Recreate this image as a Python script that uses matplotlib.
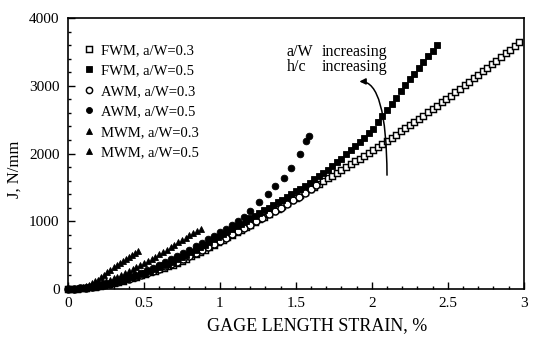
import matplotlib
matplotlib.use("Agg")
import matplotlib.pyplot as plt
from matplotlib.ticker import MultipleLocator

# FWM, a/W=0.3 (open squares)
fwm03_x = [0.00, 0.03, 0.06, 0.09, 0.12, 0.15, 0.18, 0.21, 0.24, 0.27,
           0.30, 0.33, 0.36, 0.39, 0.42, 0.45, 0.48, 0.51, 0.54, 0.57,
           0.60, 0.63, 0.66, 0.69, 0.72, 0.75, 0.78, 0.81, 0.84, 0.87,
           0.90, 0.93, 0.96, 0.99, 1.02, 1.05, 1.08, 1.11, 1.14, 1.17,
           1.20, 1.23, 1.26, 1.29, 1.32, 1.35, 1.38, 1.41, 1.44, 1.47,
           1.50, 1.53, 1.56, 1.59, 1.62, 1.65, 1.68, 1.71, 1.74, 1.77,
           1.80, 1.83, 1.86, 1.89, 1.92, 1.95, 1.98, 2.01, 2.04, 2.07,
           2.10, 2.13, 2.16, 2.19, 2.22, 2.25, 2.28, 2.31, 2.34, 2.37,
           2.40, 2.43, 2.46, 2.49, 2.52, 2.55, 2.58, 2.61, 2.64, 2.67,
           2.70, 2.73, 2.76, 2.79, 2.82, 2.85, 2.88, 2.91, 2.94, 2.97]
fwm03_y = [0, 1, 4, 10, 17, 26, 35, 46, 59, 74,
           88, 106, 125, 144, 163, 183, 202, 222, 244, 266,
           288, 312, 336, 360, 388, 418, 449, 481, 515, 548,
           582, 617, 653, 688, 725, 762, 800, 838, 876, 914,
           952, 991, 1030, 1069, 1108, 1148, 1188, 1227, 1267, 1308,
           1348, 1389, 1430, 1470, 1511, 1552, 1593, 1634, 1675, 1717,
           1758, 1800, 1842, 1884, 1927, 1970, 2013, 2057, 2101, 2146,
           2190, 2236, 2281, 2327, 2373, 2420, 2467, 2514, 2562, 2610,
           2658, 2707, 2756, 2806, 2856, 2906, 2956, 3007, 3059, 3110,
           3162, 3215, 3268, 3321, 3374, 3427, 3481, 3534, 3588, 3642]

# FWM, a/W=0.5 (filled squares)
fwm05_x = [0.00, 0.03, 0.06, 0.09, 0.12, 0.15, 0.18, 0.21, 0.24, 0.27,
           0.30, 0.33, 0.36, 0.39, 0.42, 0.45, 0.48, 0.51, 0.54, 0.57,
           0.60, 0.63, 0.66, 0.69, 0.72, 0.75, 0.78, 0.81, 0.84, 0.87,
           0.90, 0.93, 0.96, 0.99, 1.02, 1.05, 1.08, 1.11, 1.14, 1.17,
           1.20, 1.23, 1.26, 1.29, 1.32, 1.35, 1.38, 1.41, 1.44, 1.47,
           1.50, 1.53, 1.56, 1.59, 1.62, 1.65, 1.68, 1.71, 1.74, 1.77,
           1.80, 1.83, 1.86, 1.89, 1.92, 1.95, 1.98, 2.01, 2.04, 2.07,
           2.10, 2.13, 2.16, 2.19, 2.22, 2.25, 2.28, 2.31, 2.34, 2.37,
           2.40, 2.43]
fwm05_y = [0, 1, 5, 12, 19, 29, 39, 50, 65, 80,
           95, 115, 134, 154, 175, 197, 220, 243, 269, 295,
           320, 348, 375, 403, 436, 471, 506, 542, 580, 618,
           655, 694, 733, 772, 811, 850, 889, 928, 967, 1006,
           1045, 1084, 1123, 1162, 1201, 1240, 1279, 1318, 1359, 1400,
           1440, 1483, 1527, 1570, 1617, 1665, 1713, 1763, 1817, 1871,
           1925, 1987, 2048, 2110, 2172, 2235, 2298, 2370, 2460, 2550,
           2640, 2733, 2826, 2919, 3008, 3095, 3182, 3268, 3352, 3436,
           3520, 3605]

# AWM, a/W=0.3 (open circles)
awm03_x = [0.00, 0.04, 0.08, 0.12, 0.16, 0.20, 0.24, 0.28, 0.32, 0.36,
           0.40, 0.44, 0.48, 0.52, 0.56, 0.60, 0.64, 0.68, 0.72, 0.76,
           0.80, 0.84, 0.88, 0.92, 0.96, 1.00, 1.04, 1.08, 1.12, 1.16,
           1.20, 1.24, 1.28, 1.32, 1.36, 1.40, 1.44, 1.48, 1.52, 1.56,
           1.60, 1.63]
awm03_y = [0, 2, 8, 17, 30, 44, 61, 81, 103, 127,
           152, 180, 208, 237, 268, 300, 333, 368, 405, 445,
           488, 531, 575, 620, 666, 712, 759, 807, 855, 903,
           952, 1001, 1051, 1101, 1152, 1203, 1255, 1308, 1361, 1415,
           1480, 1530]

# AWM, a/W=0.5 (filled circles)
awm05_x = [0.00, 0.04, 0.08, 0.12, 0.16, 0.20, 0.24, 0.28, 0.32, 0.36,
           0.40, 0.44, 0.48, 0.52, 0.56, 0.60, 0.64, 0.68, 0.72, 0.76,
           0.80, 0.84, 0.88, 0.92, 0.96, 1.00, 1.04, 1.08, 1.12, 1.16,
           1.20, 1.26, 1.317, 1.366, 1.42, 1.471, 1.529, 1.566, 1.587]
awm05_y = [0, 3, 10, 20, 34, 50, 70, 92, 118, 146,
           176, 208, 242, 278, 316, 356, 398, 442, 488, 535,
           583, 632, 682, 733, 785, 838, 892, 947, 1003, 1060,
           1150, 1288, 1400, 1528, 1639, 1785, 1996, 2184, 2255]

# MWM, a/W=0.3 (triangles, longer branch)
mwm03_x = [0.000, 0.025, 0.050, 0.075, 0.100, 0.125, 0.150, 0.175, 0.200,
           0.225, 0.250, 0.275, 0.300, 0.325, 0.350, 0.375, 0.400, 0.425,
           0.450, 0.475, 0.500, 0.525, 0.550, 0.575, 0.600, 0.625, 0.650,
           0.675, 0.700, 0.725, 0.750, 0.775, 0.800, 0.825, 0.850, 0.875]
mwm03_y = [0, 2, 6, 13, 22, 33, 47, 62, 79,
           97, 117, 138, 160, 184, 209, 235, 262, 290,
           319, 349, 380, 412, 445, 479, 513, 548, 583,
           618, 653, 688, 722, 756, 790, 823, 856, 889]

# MWM, a/W=0.5 (triangles, short steep branch)
mwm05_x = [0.00, 0.02, 0.04, 0.06, 0.08, 0.10, 0.12, 0.14, 0.16, 0.18,
           0.20, 0.22, 0.24, 0.26, 0.28, 0.30, 0.32, 0.34, 0.36, 0.38,
           0.40, 0.42, 0.44, 0.46]
mwm05_y = [0, 2, 6, 12, 21, 33, 48, 66, 88, 112,
           140, 170, 205, 245, 282, 318, 352, 385, 417, 448,
           478, 507, 536, 565]

x_ticks = [0, 0.5, 1, 1.5, 2, 2.5, 3]
x_tick_labels = ["0", "0.5", "1", "1.5", "2", "2.5", "3"]
y_ticks = [0, 1000, 2000, 3000, 4000]

plt.rcParams['font.family'] = ['Liberation Serif', 'DejaVu Serif']

fig = plt.figure(figsize=(5.35, 3.42), dpi=100)
ax = fig.add_axes([0.127, 0.155, 0.852, 0.792])

common = dict(linestyle='none', clip_on=False, markeredgecolor='black')
ax.plot(fwm03_x, fwm03_y, marker='s', ms=4.6, mfc='white', mew=1.05,
        label='FWM, a/W=0.3', **common)
ax.plot(awm03_x, awm03_y, marker='o', ms=5.0, mfc='white', mew=1.05,
        label='AWM, a/W=0.3', **common)
ax.plot(fwm05_x, fwm05_y, marker='s', ms=4.3, mfc='black', mew=0.6,
        label='FWM, a/W=0.5', **common)
ax.plot(awm05_x, awm05_y, marker='o', ms=4.8, mfc='black', mew=0.6,
        label='AWM, a/W=0.5', **common)
ax.plot(mwm03_x, mwm03_y, marker='^', ms=4.6, mfc='black', mew=0.6,
        label='MWM, a/W=0.3', **common)
ax.plot(mwm05_x, mwm05_y, marker='^', ms=4.6, mfc='black', mew=0.6,
        label='MWM, a/W=0.5', **common)

ax.set_xlim(0, 3)
ax.set_ylim(0, 4000)
ax.set_xticks(x_ticks)
ax.set_xticklabels(x_tick_labels)
ax.set_yticks(y_ticks)
ax.xaxis.set_minor_locator(MultipleLocator(0.1))
ax.yaxis.set_minor_locator(MultipleLocator(200))
ax.tick_params(which='both', direction='in', top=False, right=False,
               labelsize=11, width=1.0)
ax.tick_params(which='major', length=5, pad=6)
ax.tick_params(which='minor', length=2.5)
for s in ax.spines.values():
    s.set_linewidth(1.2)

ax.set_xlabel('GAGE LENGTH STRAIN, %', fontsize=13)
ax.xaxis.set_label_coords(0.546, -0.103)
ax.set_ylabel('J, N/mm', fontsize=12)
ax.yaxis.set_label_coords(-0.100, 0.44)

# legend in the original order
h, l = ax.get_legend_handles_labels()
order = ['FWM, a/W=0.3', 'FWM, a/W=0.5', 'AWM, a/W=0.3',
         'AWM, a/W=0.5', 'MWM, a/W=0.3', 'MWM, a/W=0.5']
hd = dict(zip(l, h))
ax.legend([hd[k] for k in order], order, loc='upper left',
          bbox_to_anchor=(0.037, 0.905), frameon=False, fontsize=10.5,
          handlelength=0.6, handletextpad=0.5, labelspacing=0.5,
          borderpad=0, borderaxespad=0, markerscale=0.9)

# annotation
ax.text(1.44, 3500, 'a/W', fontsize=11.5, va='center', ha='left')
ax.text(1.67, 3500, 'increasing', fontsize=11.5, va='center', ha='left')
ax.text(1.44, 3280, 'h/c', fontsize=11.5, va='center', ha='left')
ax.text(1.67, 3280, 'increasing', fontsize=11.5, va='center', ha='left')
ax.annotate('', xy=(1.90, 3060), xytext=(2.10, 1640),
            arrowprops=dict(arrowstyle='-|>', color='black', lw=1.1,
                            mutation_scale=9,
                            connectionstyle='angle3,angleA=90,angleB=10'))

fig.savefig('out.png', dpi=100, facecolor='white')
